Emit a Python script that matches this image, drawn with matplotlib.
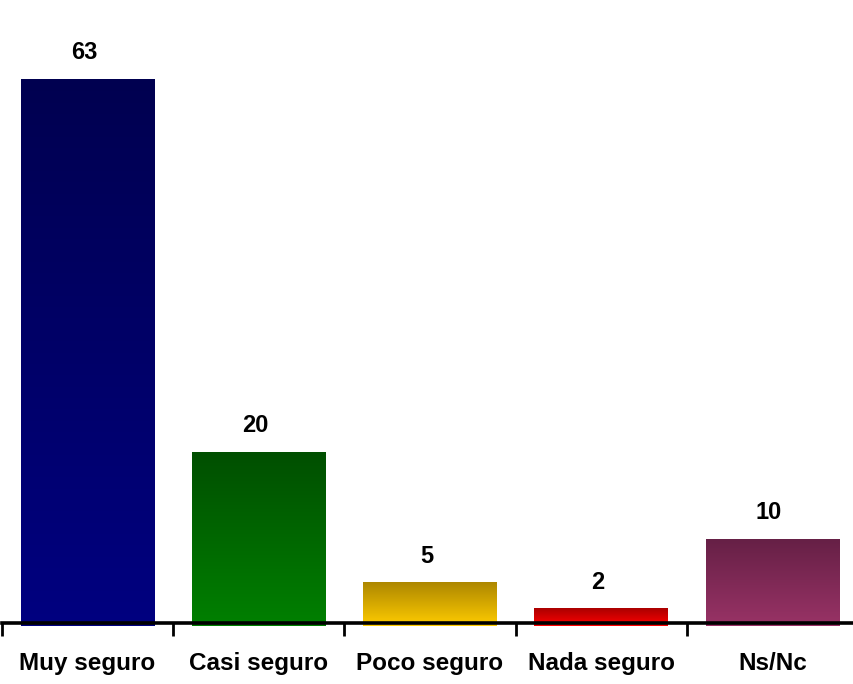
import matplotlib
matplotlib.use("Agg")
import matplotlib.pyplot as plt
import numpy as np
from matplotlib.colors import LinearSegmentedColormap

categories = ["Muy seguro", "Casi seguro", "Poco seguro", "Nada seguro", "Ns/Nc"]
values = [63, 20, 5, 2, 10]
top_colors = ["#000050", "#004f00", "#ad8700", "#aa0000", "#662046"]
bottom_colors = ["#000080", "#008000", "#ffcc00", "#ff0000", "#993366"]

plt.rcParams['font.family'] = ['Liberation Sans', 'DejaVu Sans']

fig = plt.figure(figsize=(8.54, 6.84), dpi=100)
ax = fig.add_axes([2/854, 58/684, 856/854, 626/684])

x = np.arange(len(categories))
bars = ax.bar(x, values, width=0.78, color='none', edgecolor='none', zorder=2)
grad = np.linspace(0, 1, 256).reshape(-1, 1)
for b, tc, bc, v in zip(bars, top_colors, bottom_colors, values):
    cmap = LinearSegmentedColormap.from_list('g', [bc, tc])
    x0, w, h = b.get_x(), b.get_width(), b.get_height()
    ax.imshow(grad, extent=[x0, x0 + w, 0, h], origin='lower', cmap=cmap,
              aspect='auto', zorder=2, interpolation='bilinear')
    ax.annotate(str(v), (x0 + w / 2, h), xytext=(-2.5, 19), textcoords='offset points',
                ha='center', va='center', fontsize=17, fontweight='bold', color='#000000')

ax.set_xlim(-0.5, len(categories) - 0.5)
ax.set_ylim(0, 72.1)
for s in ['top', 'right', 'left']:
    ax.spines[s].set_visible(False)
ax.spines['bottom'].set_position(('data', 0.4))
ax.spines['bottom'].set_linewidth(2.6)
ax.spines['bottom'].set_zorder(3)
ax.set_yticks([])
ax.set_xticks(x)
ax.set_xticklabels(categories, fontsize=17.5, fontweight='bold', color='#000000')
ax.tick_params(axis='x', which='major', length=0, pad=21)
ax.set_xticks(np.arange(-0.5, len(categories) + 0.5, 1), minor=True)
ax.tick_params(axis='x', which='minor', length=9, width=2, direction='out')

fig.savefig('out.png', dpi=100)
